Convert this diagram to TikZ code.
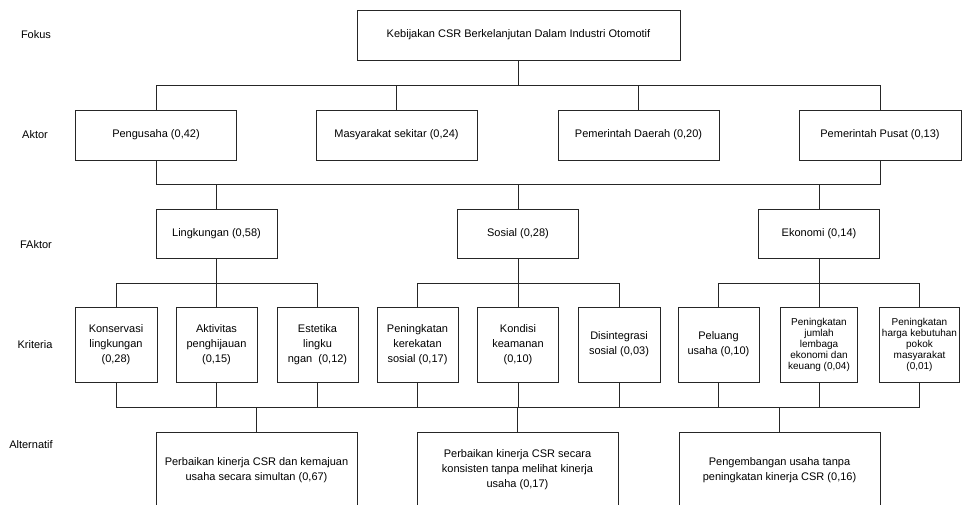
\documentclass[tikz,border=0pt]{standalone}
\usepackage{fontspec}
\setmainfont{Liberation Sans}
\usetikzlibrary{positioning}

\begin{document}
\begin{tikzpicture}[x=1pt, y=-1pt,
  every node/.style={font=\fontsize{11}{15}\selectfont, align=center, inner sep=1pt},
  box/.style={draw=black!85, line width=0.7pt, minimum width=#1, minimum height=50pt},
  kbox/.style={box=#1, minimum height=75pt},
  abox/.style={box=201pt, minimum height=76pt},
  small/.style={font=\fontsize{10}{11}\selectfont},
  link/.style={draw=black!85, line width=0.7pt}]
  \useasboundingbox (0,0) rectangle (963,504);
  \clip (0,0) rectangle (963,504);
  % level labels
  \node (fokusLbl) at (36,35) {Fokus};
  \node (aktorLbl) at (35,135) {Aktor};
  \node (faktorLbl) at (36,245) {FAktor};
  \node (kritLbl) at (35,345) {Kriteria};
  \node (altLbl) at (31,445) {Alternatif};
  % focus and actors
  \node[box=323pt] (fokus) at (518.5,35) {Kebijakan CSR Berkelanjutan Dalam Industri Otomotif};
  \node[box=161pt] (peng) at (156,135) {Pengusaha (0,42)};
  \node[box=161pt] (masy) at (396.5,135) {Masyarakat sekitar (0,24)};
  \node[box=161pt] (daerah) at (638.5,135) {Pemerintah Daerah (0,20)};
  \node[box=162pt] (pusat) at (880,135) {Pemerintah Pusat (0,13)};
  % factors
  \node[box=121pt, minimum height=49pt] (ling) at (216.5,233.5) {Lingkungan (0,58)};
  \node[box=121pt, minimum height=49pt] (sos) at (518,233.5) {Sosial (0,28)};
  \node[box=121pt, minimum height=49pt] (eko) at (819,233.5) {Ekonomi (0,14)};
  % criteria
  \node[kbox=82pt] (kons) at (116,344.5) {Konservasi\\lingkungan\\(0,28)};
  \node[kbox=81pt] (aktv) at (216.5,344.5) {Aktivitas\\penghijauan\\(0,15)};
  \node[kbox=81pt] (este) at (317.5,344.5) {Estetika\\lingku\\ngan\ \ (0,12)};
  \node[kbox=81pt] (kerek) at (417.5,344.5) {Peningkatan\\kerekatan\\sosial (0,17)};
  \node[kbox=81pt] (kond) at (518,344.5) {Kondisi\\keamanan\\(0,10)};
  \node[kbox=82pt] (disin) at (619,344.5) {Disintegrasi\\sosial (0,03)};
  \node[kbox=81pt] (pel) at (718.5,344.5) {Peluang\\usaha (0,10)};
  \node[kbox=77pt, small] (juml) at (819,344.5) {Peningkatan\\jumlah\\lembaga\\ekonomi dan\\keuang (0,04)};
  \node[kbox=80pt, small] (harga) at (919.5,344.5) {Peningkatan\\harga kebutuhan\\pokok\\masyarakat\\(0,01)};
  % alternatives
  \node[abox] (alt1) at (256.5,470) {Perbaikan kinerja CSR dan kemajuan\\usaha secara simultan (0,67)};
  \node[abox] (alt2) at (517.5,470) {Perbaikan kinerja CSR secara\\konsisten tanpa melihat kinerja\\usaha (0,17)};
  \node[abox] (alt3) at (779.5,470) {Pengembangan usaha tanpa\\peningkatan kinerja CSR (0,16)};
  % bus lines
  \coordinate (busA) at (0,85);
  \coordinate (busB) at (0,184);
  \coordinate (busC) at (0,283);
  \coordinate (busD) at (0,407);
  \draw[link] (fokus.south) -- (fokus.south |- busA);
  \draw[link] (peng.north) -- (peng.north |- busA) -- (pusat.north |- busA) -- (pusat.north);
  \foreach \n in {masy,daerah}
    \draw[link] (\n.north) -- (\n.north |- busA);
  \draw[link] (peng.south) -- (peng.south |- busB) -- (pusat.south |- busB) -- (pusat.south);
  \foreach \n in {ling,sos,eko}
    \draw[link] (\n.north) -- (\n.north |- busB);
  \foreach \f/\l/\m/\r in {ling/kons/aktv/este, sos/kerek/kond/disin, eko/pel/juml/harga} {
    \draw[link] (\f.south) -- (\f.south |- busC);
    \draw[link] (\l.north) -- (\l.north |- busC) -- (\r.north |- busC) -- (\r.north);
    \draw[link] (\m.north) -- (\m.north |- busC);
  }
  \draw[link] (kons.south) -- (kons.south |- busD) -- (harga.south |- busD) -- (harga.south);
  \foreach \n in {aktv,este,kerek,kond,disin,pel,juml}
    \draw[link] (\n.south) -- (\n.south |- busD);
  \foreach \a in {alt1,alt2,alt3}
    \draw[link] (\a.north |- busD) -- (\a.north);
\end{tikzpicture}
\end{document}
